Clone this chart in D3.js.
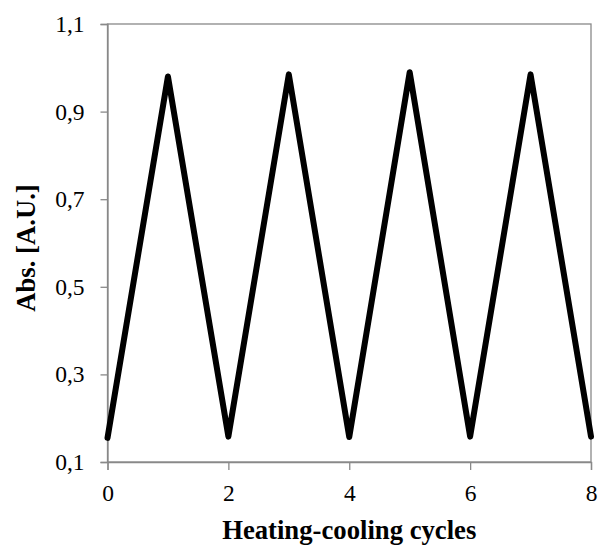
<!DOCTYPE html>
<html>
<head>
<meta charset="utf-8">
<script src="https://cdn.jsdelivr.net/npm/d3@7"></script>
<style>
  body { margin: 0; background: #fff; }
  svg text { font-family: "Liberation Serif", "Times New Roman", serif; }
</style>
</head>
<body>
<svg width="603" height="548"></svg>
<script>
// heating-cooling absorbance readings
const cycles = [0, 1, 2, 3, 4, 5, 6, 7, 8];
const absValues = [0.155, 0.98, 0.158, 0.985, 0.157, 0.99, 0.158, 0.985, 0.158];
const xTicks = [0, 2, 4, 6, 8];
const yTicks = [0.1, 0.3, 0.5, 0.7, 0.9, 1.1];

const margin = { top: 24, right: 12, bottom: 86, left: 107.5 };
const width = 603 - margin.left - margin.right;
const height = 548 - margin.top - margin.bottom;
const axisColor = "#898989";

const svg = d3.select("svg");
const g = svg.append("g").attr("transform", `translate(${margin.left},${margin.top})`);

const x = d3.scaleLinear().domain([0, 8]).range([0, width]);
const y = d3.scaleLinear().domain([0.1, 1.1]).range([height, 0]);

// frame
g.append("rect")
  .attr("x", 0).attr("y", 0)
  .attr("width", width).attr("height", height)
  .attr("fill", "none")
  .attr("stroke", axisColor)
  .attr("stroke-width", 1.3);

const fmt = d => d3.format(".1f")(d).replace(".", ",");

const yAxis = g.append("g")
  .call(d3.axisLeft(y).tickValues(yTicks).tickSize(7).tickPadding(16).tickFormat(fmt));
const xAxis = g.append("g")
  .attr("transform", `translate(0,${height})`)
  .call(d3.axisBottom(x).tickValues(xTicks).tickSize(8).tickPadding(14).tickFormat(d3.format("d")));

[xAxis, yAxis].forEach(a => {
  a.select(".domain").attr("stroke", axisColor).attr("stroke-width", 1.3);
  a.selectAll(".tick line").attr("stroke", axisColor).attr("stroke-width", 1.3);
  a.selectAll("text")
    .attr("fill", "#000")
    .style("font-size", "23.5px")
    .style("font-family", "'Liberation Serif', 'Times New Roman', serif");
});

const line = d3.line()
  .x((d, i) => x(cycles[i]))
  .y(d => y(d));

g.append("path")
  .datum(absValues)
  .attr("d", line)
  .attr("fill", "none")
  .attr("stroke", "#000")
  .attr("stroke-width", 6)
  .attr("stroke-linejoin", "round")
  .attr("stroke-linecap", "round");

svg.append("text")
  .attr("x", margin.left + width / 2)
  .attr("y", 539)
  .attr("text-anchor", "middle")
  .style("font-size", "26.7px")
  .style("font-weight", "bold")
  .text("Heating-cooling cycles");

svg.append("text")
  .attr("transform", "translate(35,248) rotate(-90)")
  .attr("text-anchor", "middle")
  .style("font-size", "26.7px")
  .style("font-weight", "bold")
  .text("Abs. [A.U.]");
</script>
</body>
</html>
